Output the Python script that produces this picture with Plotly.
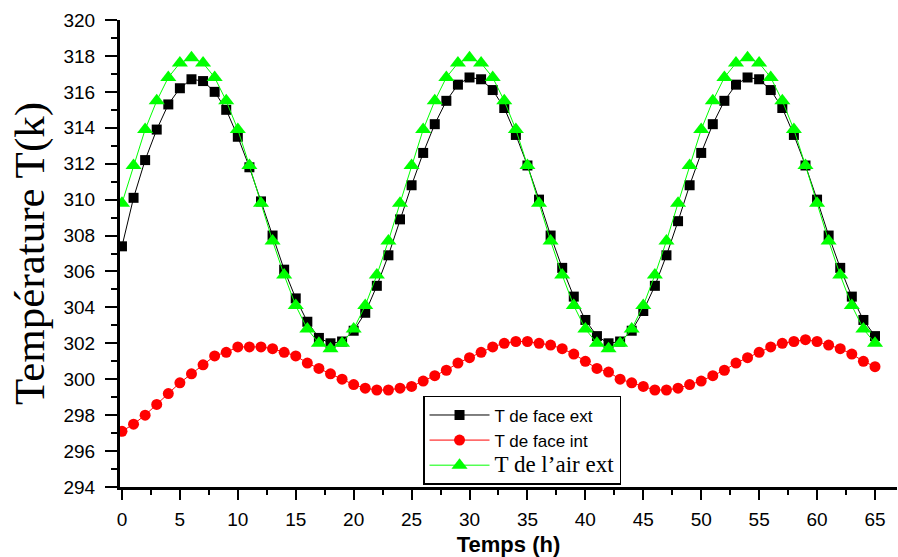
import plotly.graph_objects as go

# Time in hours
hours = list(range(66))

# Outer face temperature (K)
t_face_ext = [
    307.4, 310.1, 312.2, 313.9, 315.3, 316.2, 316.7, 316.6, 316.0, 315.0,
    313.5, 311.8, 309.9, 308.0, 306.1, 304.5, 303.2, 302.3, 302.0, 302.1,
    302.7, 303.7, 305.2, 306.9, 308.9, 310.8, 312.6, 314.2, 315.5, 316.4,
    316.8, 316.7, 316.1, 315.1, 313.6, 311.9, 310.0, 308.0, 306.2, 304.6,
    303.3, 302.4, 302.0, 302.1, 302.7, 303.8, 305.2, 306.9, 308.8, 310.8,
    312.6, 314.2, 315.5, 316.4, 316.8, 316.7, 316.1, 315.1, 313.6, 311.9,
    310.0, 308.0, 306.2, 304.6, 303.3, 302.4,
]

# Inner face temperature (K)
t_face_int = [
    297.1, 297.5, 298.0, 298.6, 299.2, 299.8, 300.3, 300.8, 301.3, 301.5,
    301.8, 301.8, 301.8, 301.7, 301.5, 301.3, 300.9, 300.6, 300.3, 300.0,
    299.7, 299.5, 299.4, 299.4, 299.5, 299.6, 299.9, 300.2, 300.5, 300.9,
    301.2, 301.5, 301.8, 302.0, 302.1, 302.1, 302.0, 301.9, 301.7, 301.4,
    301.0, 300.6, 300.4, 300.0, 299.8, 299.6, 299.4, 299.4, 299.5, 299.7,
    299.9, 300.2, 300.5, 300.9, 301.2, 301.5, 301.8, 302.0, 302.1, 302.2,
    302.1, 301.9, 301.7, 301.4, 301.0, 300.7,
]

# Outside air temperature (K)
t_air_ext = [
    309.8, 311.9, 313.9, 315.5, 316.8, 317.6, 317.9, 317.6, 316.8, 315.5,
    313.9, 311.9, 309.8, 307.7, 305.8, 304.1, 302.8, 302.0, 301.7, 302.0,
    302.8, 304.1, 305.8, 307.7, 309.8, 311.9, 313.9, 315.5, 316.8, 317.6,
    317.9, 317.6, 316.8, 315.5, 313.9, 311.9, 309.8, 307.7, 305.8, 304.1,
    302.8, 302.0, 301.7, 302.0, 302.8, 304.1, 305.8, 307.7, 309.8, 311.9,
    313.9, 315.5, 316.8, 317.6, 317.9, 317.6, 316.8, 315.5, 313.9, 311.9,
    309.8, 307.7, 305.8, 304.1, 302.8, 302.0,
]

x_ticks = list(range(0, 66, 5))
y_ticks = list(range(294, 321, 2))

SANS = "Liberation Sans, Arial, sans-serif"
SERIF = "Liberation Serif, Times New Roman, serif"

fig = go.Figure()
fig.add_trace(go.Scatter(
    x=hours, y=t_face_ext, mode="lines+markers", name="T de face ext",
    line=dict(color="black", width=1),
    marker=dict(symbol="square", size=10, color="black"),
))
fig.add_trace(go.Scatter(
    x=hours, y=t_face_int, mode="lines+markers", name="T de face int",
    line=dict(color="#ff0000", width=1),
    marker=dict(symbol="circle", size=11, color="#ff0000"),
))
fig.add_trace(go.Scatter(
    x=hours, y=t_air_ext, mode="lines+markers",
    name='<span style="font-family:Liberation Serif, Times New Roman, serif;font-size:23px">T de l\u2019air ext</span>',
    line=dict(color="#00ff00", width=1),
    marker=dict(symbol="triangle-up", size=14, color="#00ff00"),
))

fig.update_layout(
    width=898, height=557,
    margin=dict(l=120, r=1, t=20, b=70),
    paper_bgcolor="white", plot_bgcolor="white",
    font=dict(family=SANS, color="black"),
    xaxis=dict(
        range=[-0.17, 66.9], tickvals=x_ticks, ticks="outside", ticklen=10,
        tickwidth=2, tickcolor="black",
        minor=dict(dtick=2.5, tick0=0, ticks="outside", ticklen=5, tickwidth=2, tickcolor="black"),
        showline=True, linewidth=2.5, linecolor="black",
        showgrid=False, zeroline=False,
        tickfont=dict(family=SANS, size=19, color="black"),
        ticklabelstandoff=3,
        title=dict(text="<b>Temps (h)</b>", font=dict(family=SANS, size=22, color="black"), standoff=12),
    ),
    yaxis=dict(
        range=[294, 320], tickvals=y_ticks, ticks="outside", ticklen=12,
        tickwidth=2, tickcolor="black",
        minor=dict(dtick=1, tick0=294, ticks="outside", ticklen=6, tickwidth=2, tickcolor="black"),
        showline=True, linewidth=3, linecolor="black",
        showgrid=False, zeroline=False,
        tickfont=dict(family=SANS, size=19, color="black"),
        ticklabelstandoff=6,
        title=dict(text="Temp\u00e9rature T(k)", font=dict(family=SERIF, size=43, color="black"), standoff=6),
    ),
    xaxis2=dict(
        overlaying="x", side="top", matches="x", anchor="y",
        tickvals=x_ticks, ticks="inside", ticklen=10, tickwidth=2, tickcolor="black",
        minor=dict(dtick=2.5, tick0=0, ticks="inside", ticklen=5, tickwidth=2, tickcolor="black"),
        showticklabels=False, showline=True, linewidth=2, linecolor="black",
        showgrid=False, zeroline=False,
    ),
    yaxis2=dict(
        overlaying="y", side="right", matches="y", anchor="x",
        tickvals=y_ticks, ticks="inside", ticklen=4, tickwidth=2, tickcolor="black",
        showticklabels=False, showline=False, showgrid=False, zeroline=False,
    ),
    legend=dict(
        x=0.39, y=0.195, xanchor="left", yanchor="top",
        bgcolor="white", bordercolor="black", borderwidth=1.5,
        font=dict(family=SANS, size=17, color="black"),
        itemwidth=60, tracegroupgap=0,
    ),
    showlegend=True,
)

fig.write_html("out.html")
